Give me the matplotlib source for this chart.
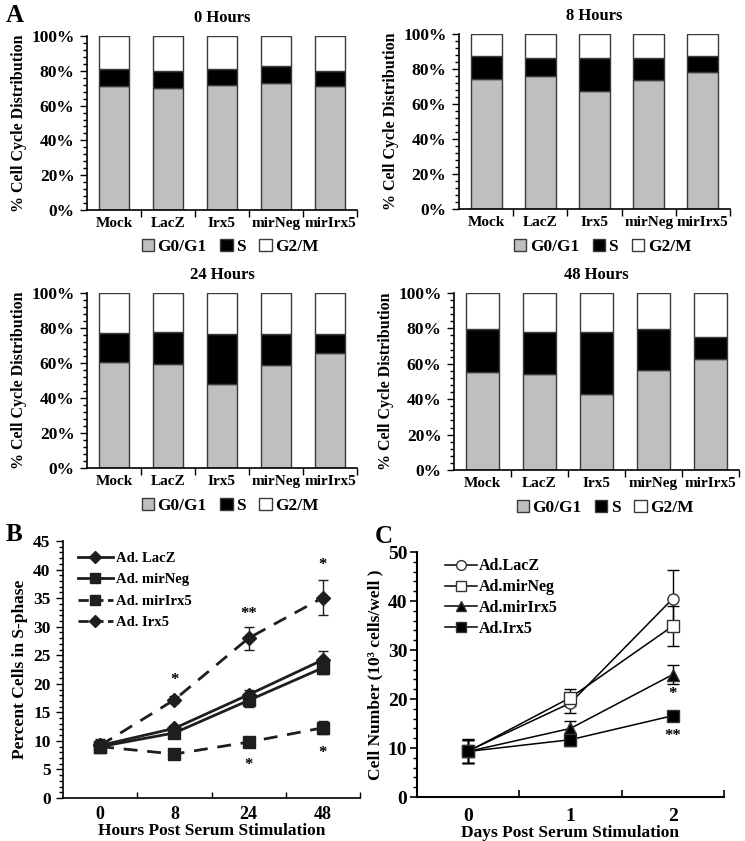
import matplotlib
matplotlib.use("Agg")
import matplotlib.pyplot as plt
from matplotlib.patches import Patch
from matplotlib.lines import Line2D
from matplotlib.ticker import MultipleLocator, FixedLocator

plt.rcParams["font.family"] = ["Liberation Serif", "DejaVu Serif"]
plt.rcParams["font.weight"] = "bold"

# ---- panel A data: % of cells per phase ----
groups = ["Mock", "LacZ", "Irx5", "mirNeg", "mirIrx5"]
panel_titles = ["0 Hours", "8 Hours", "24 Hours", "48 Hours"]
g0g1 = [
    [71, 70, 72, 73, 71],
    [74.5, 76, 67.5, 73.5, 78.5],
    [60.5, 59.5, 48, 59, 65.5],
    [55.5, 54, 43, 56.5, 63],
]
s_phase = [
    [10, 10, 9, 10, 9],
    [13, 10.5, 18.5, 12.5, 9],
    [16.5, 18.5, 28.5, 17.5, 11],
    [24, 24, 35, 23, 12],
]

# ---- panel B data: percent cells in S-phase ----
b_hours = ["0", "8", "24", "48"]
b_names = ["Ad. LacZ", "Ad. mirNeg", "Ad. mirIrx5", "Ad. Irx5"]
b_vals = [
    [9.2, 12.2, 18.1, 24.2],
    [9.0, 11.4, 17.1, 22.8],
    [9.0, 7.7, 9.8, 12.3],
    [9.2, 17.2, 28.0, 35.1],
]
b_errs = [
    [1.2, 0.6, 0.9, 1.6],
    [1.0, 0.7, 1.2, 1.0],
    [0.8, 0.6, 0.8, 1.1],
    [1.0, 0.6, 2.0, 3.1],
]
b_star_x = [1, 2, 3, 2, 3]
b_star_y = [20.6, 32.2, 40.8, 5.8, 7.9]
b_star_txt = ["*", "**", "*", "*", "*"]

# ---- panel C data: cell number (10^3 cells/well) ----
c_days = ["0", "1", "2"]
c_names = ["Ad.LacZ", "Ad.mirNeg", "Ad.mirIrx5", "Ad.Irx5"]
c_vals = [
    [9.4, 19.2, 40.5],
    [9.3, 20.3, 34.9],
    [9.3, 14.0, 25.0],
    [9.3, 11.7, 16.6],
]
c_errs = [
    [2.4, 2.0, 5.8],
    [2.4, 1.8, 4.0],
    [2.4, 1.6, 2.0],
    [2.4, 1.3, 0.5],
]
c_star_x = [2, 2]
c_star_y = [21.0, 12.4]
c_star_txt = ["*", "**"]

GRAY = "#bfbfbf"
EDGE = "#3a3a3a"

fig = plt.figure(figsize=(7.45, 8.41), dpi=100)

bar_rects = [
    [0.1168, 0.7503, 0.3624, 0.2069],
    [0.6161, 0.7515, 0.3638, 0.2081],
    [0.1168, 0.4435, 0.3624, 0.2081],
    [0.6094, 0.4411, 0.3826, 0.2105],
]

for i, rect in enumerate(bar_rects):
    ax = fig.add_axes(rect)
    x = list(range(len(groups)))
    g0 = g0g1[i]
    s = s_phase[i]
    g2 = [100 - a - b for a, b in zip(g0, s)]
    bottom_s = g0
    bottom_g2 = [a + b for a, b in zip(g0, s)]
    ax.bar(x, g0, width=0.57, color=GRAY, edgecolor=EDGE, linewidth=1.0)
    ax.bar(x, s, width=0.57, bottom=bottom_s, color="black", edgecolor=EDGE, linewidth=1.0)
    ax.bar(x, g2, width=0.57, bottom=bottom_g2, color="white", edgecolor=EDGE, linewidth=1.0)
    ax.set_xlim(-0.5, 4.5)
    ax.set_ylim(0, 100)
    for sp in ("top", "right"):
        ax.spines[sp].set_visible(False)
    ax.spines["left"].set_linewidth(1.2)
    ax.spines["bottom"].set_linewidth(1.2)
    ax.set_yticks(range(0, 101, 20))
    ax.set_yticklabels([f"{v}%" for v in range(0, 101, 20)], fontsize=12.5, fontweight="bold")
    ax.yaxis.set_minor_locator(MultipleLocator(4))
    ax.tick_params(axis="y", which="major", direction="out", length=5, width=1, pad=4)
    ax.tick_params(axis="y", which="minor", direction="out", length=3, width=1)
    ax.set_xticks(x)
    ax.set_xticklabels(groups, fontsize=11, fontweight="bold")
    ax.xaxis.set_minor_locator(FixedLocator([0.5, 1.5, 2.5, 3.5, 4.5]))
    ax.tick_params(axis="x", which="major", length=0, pad=5)
    ax.tick_params(axis="x", which="minor", direction="out", length=5, width=1)
    ax.set_ylabel("% Cell Cycle Distribution", fontsize=11.5, fontweight="bold", labelpad=3)
    ax.set_title(panel_titles[i], fontsize=12, fontweight="bold", pad=10)
    handles = [
        Patch(facecolor=GRAY, edgecolor=EDGE, label="G0/G1"),
        Patch(facecolor="black", edgecolor=EDGE, label="S"),
        Patch(facecolor="white", edgecolor=EDGE, label="G2/M"),
    ]
    ax.legend(handles=handles, loc="center", bbox_to_anchor=(0.53, -0.215), ncol=3,
              frameon=False, fontsize=12.5, handlelength=0.7, handleheight=0.7,
              handletextpad=0.2, columnspacing=0.8, borderaxespad=0)

# ---- panel B ----
axb = fig.add_axes([0.0846, 0.0511, 0.3987, 0.3056])
bx = list(range(len(b_hours)))
b_styles = [("-", "D"), ("-", "s"), ("--", "s"), ("--", "D")]
b_handles = []
for vals, errs, (ls, mk), name in zip(b_vals, b_errs, b_styles, b_names):
    axb.errorbar(bx, vals, yerr=errs, color="#1e1e1e", linestyle=ls, linewidth=2.0,
                 marker=mk, markersize=8 if mk == "s" else 7, capsize=3.5, elinewidth=1.0,
                 capthick=1.0, dashes=(5, 3.5) if ls == "--" else (None, None))
    b_handles.append(Line2D([], [], color="#1e1e1e", linestyle=ls, linewidth=2.0, marker=mk,
                            markersize=7 if mk == "s" else 6, label=name))
for xs, ys, t in zip(b_star_x, b_star_y, b_star_txt):
    axb.text(xs, ys, t, ha="center", va="center", fontsize=12, fontweight="bold")
axb.set_xlim(-0.5, 3.5)
axb.set_ylim(0, 45)
for sp in ("top", "right"):
    axb.spines[sp].set_visible(False)
axb.spines["left"].set_linewidth(1.2)
axb.spines["bottom"].set_linewidth(1.2)
axb.set_yticks(range(0, 46, 5))
axb.set_yticklabels([str(v) for v in range(0, 46, 5)], fontsize=12.5, fontweight="bold")
axb.yaxis.set_minor_locator(MultipleLocator(1))
axb.tick_params(axis="y", which="major", direction="out", length=5, width=1, pad=4)
axb.tick_params(axis="y", which="minor", direction="out", length=3, width=1)
axb.set_xticks(bx)
axb.set_xticklabels(b_hours, fontsize=13, fontweight="bold")
axb.xaxis.set_minor_locator(FixedLocator([0.5, 1.5, 2.5, 3.5]))
axb.tick_params(axis="x", which="major", length=0, pad=6)
axb.tick_params(axis="x", which="minor", direction="in", length=4, width=1)
axb.set_xlabel("Hours Post Serum Stimulation", fontsize=12.5, fontweight="bold", labelpad=0)
axb.set_ylabel("Percent Cells in S-phase", fontsize=12.5, fontweight="bold", labelpad=4)
axb.legend(handles=b_handles, loc="upper left", bbox_to_anchor=(0.03, 0.98), frameon=False,
           fontsize=10.5, handlelength=2.4, labelspacing=0.55, handletextpad=0.2,
           borderaxespad=0)

# ---- panel C ----
axc = fig.add_axes([0.5597, 0.0523, 0.4121, 0.2913])
cx = list(range(len(c_days)))
c_markers = [("o", "white"), ("s", "white"), ("^", "black"), ("s", "black")]
c_handles = []
for vals, errs, (mk, fc), name in zip(c_vals, c_errs, c_markers, c_names):
    axc.errorbar(cx, vals, yerr=errs, color="black", linewidth=1.1, marker=mk,
                 markersize=8, markerfacecolor=fc, markeredgecolor="#333333",
                 markeredgewidth=1.0, capsize=4, elinewidth=1.0, capthick=1.0)
    c_handles.append(Line2D([], [], color="black", linewidth=1.1, marker=mk, markersize=7,
                            markerfacecolor=fc, markeredgecolor="#333333", label=name))
for xs, ys, t in zip(c_star_x, c_star_y, c_star_txt):
    axc.text(xs, ys, t, ha="center", va="center", fontsize=12, fontweight="bold")
axc.set_xlim(-0.5, 2.5)
axc.set_ylim(0, 50)
for sp in ("top", "right"):
    axc.spines[sp].set_visible(False)
axc.spines["left"].set_linewidth(1.5)
axc.spines["bottom"].set_linewidth(1.5)
axc.set_yticks(range(0, 51, 10))
axc.set_yticklabels([str(v) for v in range(0, 51, 10)], fontsize=14, fontweight="bold")
axc.yaxis.set_minor_locator(MultipleLocator(2))
axc.tick_params(axis="y", which="major", direction="out", length=5, width=1.2, pad=2)
axc.tick_params(axis="y", which="minor", direction="out", length=3, width=1)
axc.set_xticks(cx)
axc.set_xticklabels(c_days, fontsize=14, fontweight="bold")
axc.xaxis.set_minor_locator(FixedLocator([0.5, 1.5, 2.5]))
axc.tick_params(axis="x", which="major", length=0, pad=8)
axc.tick_params(axis="x", which="minor", direction="in", length=5, width=1.2)
axc.set_xlabel("Days Post Serum Stimulation", fontsize=12.5, fontweight="bold", labelpad=0)
axc.set_ylabel("Cell Number (10\u00b3 cells/well )", fontsize=12.5, fontweight="bold", labelpad=3)
axc.legend(handles=c_handles, loc="upper left", bbox_to_anchor=(0.07, 1.0), frameon=False,
           fontsize=11.5, handlelength=2.0, labelspacing=0.3, handletextpad=0.1,
           borderaxespad=0)

# panel letters
fig.text(0.008, 0.982, "A", fontsize=18, fontweight="bold", va="center")
fig.text(0.008, 0.364, "B", fontsize=18, fontweight="bold", va="center")
fig.text(0.503, 0.362, "C", fontsize=18, fontweight="bold", va="center")

fig.savefig("out.png", dpi=100)
